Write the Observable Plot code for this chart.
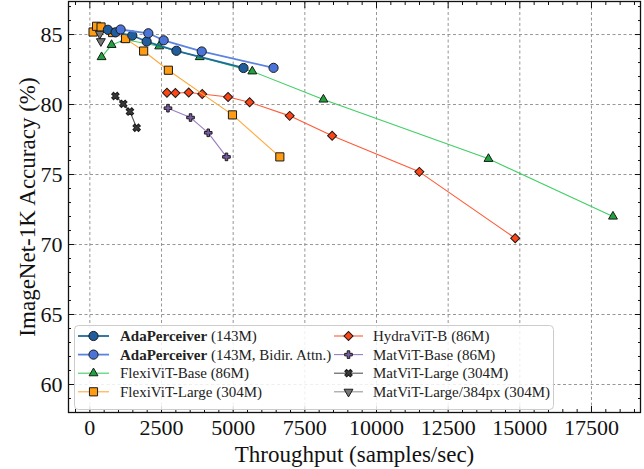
<!DOCTYPE html>
<html><head><meta charset="utf-8">
<script src="https://cdn.jsdelivr.net/npm/d3@7"></script>
<script src="https://cdn.jsdelivr.net/npm/@observablehq/plot@0.6"></script>
<style>
body{margin:0;background:#fff;}
#wrap{position:relative;width:644px;height:469px;}
#legend{position:absolute;left:0;top:0;pointer-events:none;}
</style></head><body><div id="wrap"></div>
<script>
// ---- data (throughput samples/sec, ImageNet-1K top-1 %) ----
const adaX = [629, 898, 1481, 1981, 3019, 5360];
const adaY = [85.34, 85.16, 84.93, 84.50, 83.84, 82.61];
const adaBiX = [1073, 2040, 2575, 3903, 6408];
const adaBiY = [85.36, 85.09, 84.59, 83.79, 82.62];
const flexBaseX = [409, 758, 1223, 2418, 3833, 5667, 8148, 13906, 18250];
const flexBaseY = [83.39, 84.26, 84.64, 84.16, 83.39, 82.37, 80.36, 76.12, 72.0];
const flexLargeX = [112, 234, 391, 793, 1247, 1876, 2739, 4975, 6628];
const flexLargeY = [85.18, 85.59, 85.54, 85.14, 84.71, 83.82, 82.45, 79.26, 76.26];
const hydraX = [2690, 2984, 3449, 3920, 4822, 5573, 6971, 8452, 11495, 14839];
const hydraY = [80.84, 80.82, 80.86, 80.75, 80.54, 80.16, 79.19, 77.77, 75.19, 70.45];
const matBaseX = [2725, 3512, 4130, 4766];
const matBaseY = [79.74, 79.07, 77.98, 76.26];
const matLargeX = [891, 1167, 1398, 1632];
const matLargeY = [80.61, 80.05, 79.50, 78.34];
const mat384X = [346, 384];
const mat384Y = [85.05, 84.52];

const xTicks = [0, 2500, 5000, 7500, 10000, 12500, 15000, 17500];
const yTicks = [60, 65, 70, 75, 80, 85];
const xMinor = d3.range(-500, 19500, 500).filter(v => v % 2500 !== 0);
const yMinor = d3.range(58, 88, 1).filter(v => v % 5 !== 0);

const series = [
  {key:"hydra", xs:hydraX, ys:hydraY, label:"HydraViT-B", rest:" (86M)", line:"#ff5a36", fill:"#ff4515", symbol:"square", rotate:45, r:3.6, lw:1.1},
  {key:"fb", xs:flexBaseX, ys:flexBaseY, label:"FlexiViT-Base", rest:" (86M)", line:"#3fcf63", fill:"#1fa33c", symbol:"triangle", rotate:0, r:3.3, lw:1.1},
  {key:"fl", xs:flexLargeX, ys:flexLargeY, label:"FlexiViT-Large", rest:" (304M)", line:"#ffa93a", fill:"#ff9c12", symbol:"square", rotate:0, r:4.6, lw:1.1},
  {key:"mb", xs:matBaseX, ys:matBaseY, label:"MatViT-Base", rest:" (86M)", line:"#9a7cc0", fill:"#7a5aa3", symbol:"cross", rotate:0, r:3.2, lw:1.1},
  {key:"ml", xs:matLargeX, ys:matLargeY, label:"MatViT-Large", rest:" (304M)", line:"#555555", fill:"#3a3a3a", symbol:"cross", rotate:45, r:3.3, lw:1.1},
  {key:"m384", xs:mat384X, ys:mat384Y, label:"MatViT-Large/384px", rest:" (304M)", line:"#999999", fill:"#777777", symbol:"triangle", rotate:180, r:3.3, lw:1.1},
  {key:"ada", xs:adaX, ys:adaY, label:"AdaPerceiver", rest:" (143M)", bold:true, line:"#1b6b9c", fill:"#1f5d9d", symbol:"circle", rotate:0, r:4.6, lw:1.8},
  {key:"adab", xs:adaBiX, ys:adaBiY, label:"AdaPerceiver", rest:" (143M, Bidir. Attn.)", bold:true, line:"#5b83e0", fill:"#4a74d8", symbol:"circle", rotate:0, r:4.6, lw:1.8}
];

const seriesMarks = [];
for (const s of series) {
  const data = s.xs.map((x, i) => ({x, y: s.ys[i]}));
  seriesMarks.push(Plot.line(data, {x:"x", y:"y", stroke:s.line, strokeWidth:s.lw}));
  seriesMarks.push(Plot.dot(data, {x:"x", y:"y", symbol:s.symbol, rotate:s.rotate, r:s.r, fill:s.fill, stroke:"#1a1a1a", strokeWidth:1}));
}

const blank = () => "";
const fmt = d3.format("d");
const chart = Plot.plot({
  width: 644, height: 469,
  marginLeft: 68, marginRight: 4, marginTop: 1, marginBottom: 57,
  style: {fontFamily: "'Liberation Serif', 'DejaVu Serif', serif", fontSize: "22px", color: "#111", background: "#fff"},
  x: {domain: [-745, 19210]},
  y: {domain: [58, 87.36]},
  marks: [
    Plot.gridX(xTicks, {stroke:"#8a8a8a", strokeOpacity:1, strokeDasharray:"3,2.5", strokeWidth:0.9}),
    Plot.gridY(yTicks, {stroke:"#8a8a8a", strokeOpacity:1, strokeDasharray:"3,2.5", strokeWidth:0.9}),
    ...seriesMarks,
    Plot.axisX(xTicks, {anchor:"bottom", tickSize:0, tickPadding:7, tickFormat:fmt, label:null, fontSize:22}),
    Plot.axisY(yTicks, {anchor:"left", tickSize:0, tickPadding:6, tickFormat:fmt, label:null, fontSize:22}),
    Plot.axisX(xTicks, {anchor:"bottom", tickSize:-6, tickFormat:blank, label:null}),
    Plot.axisX(xTicks, {anchor:"top", tickSize:-6, tickFormat:blank, label:null}),
    Plot.axisX(xMinor, {anchor:"bottom", tickSize:-3, tickFormat:blank, label:null}),
    Plot.axisX(xMinor, {anchor:"top", tickSize:-3, tickFormat:blank, label:null}),
    Plot.axisY(yTicks, {anchor:"left", tickSize:-6, tickFormat:blank, label:null}),
    Plot.axisY(yTicks, {anchor:"right", tickSize:-6, tickFormat:blank, label:null}),
    Plot.axisY(yMinor, {anchor:"left", tickSize:-3, tickFormat:blank, label:null}),
    Plot.axisY(yMinor, {anchor:"right", tickSize:-3, tickFormat:blank, label:null}),
    Plot.text(["Throughput (samples/sec)"], {frameAnchor:"bottom", dy:42, text:d=>d, fontSize:23, lineAnchor:"middle", textAnchor:"middle"}),
    Plot.text(["ImageNet-1K Accuracy (%)"], {frameAnchor:"left", dx:-41, rotate:-90, text:d=>d, fontSize:23, lineAnchor:"middle", textAnchor:"middle"}),
    Plot.frame({stroke:"#111", strokeWidth:1.3})
  ]
});
const wrap = document.getElementById("wrap");
wrap.appendChild(chart);

// ---- legend overlay ----
const legendOrder = ["ada", "adab", "fb", "fl", "hydra", "mb", "ml", "m384"];
const lg = d3.select(wrap).append("svg").attr("id","legend").attr("width",644).attr("height",469)
  .style("font-family","'Liberation Serif', 'DejaVu Serif', serif").style("font-size","15px");
lg.append("rect").attr("x",74.5).attr("y",325.5).attr("width",479).attr("height",84).attr("rx",4)
  .attr("fill","#fff").attr("fill-opacity",0.85).attr("stroke","#cccccc");
const symMap = {circle:d3.symbolCircle, square:d3.symbolSquare, triangle:d3.symbolTriangle, cross:d3.symbolCross};
legendOrder.forEach((k, i) => {
  const s = series.find(d => d.key === k);
  const col = Math.floor(i / 4), row = i % 4;
  const x0 = col ? 334 : 78, x1 = col ? 363 : 109, tx = col ? 373 : 120;
  const y = 336 + row * 18.6;
  const g = lg.append("g");
  g.append("line").attr("x1",x0).attr("x2",x1).attr("y1",y).attr("y2",y).attr("stroke",s.line).attr("stroke-width",s.lw);
  g.append("path").attr("d", d3.symbol(symMap[s.symbol], Math.PI*s.r*s.r)())
    .attr("transform",`translate(${(x0+x1)/2},${y}) rotate(${s.rotate})`)
    .attr("fill",s.fill).attr("stroke","#1a1a1a").attr("stroke-width",1);
  const t = g.append("text").attr("x",tx).attr("y",y).attr("dy","0.35em").attr("fill","#222");
  t.append("tspan").attr("font-weight", s.bold ? "bold" : "normal").text(s.label);
  t.append("tspan").text(s.rest);
});
</script></body></html>
